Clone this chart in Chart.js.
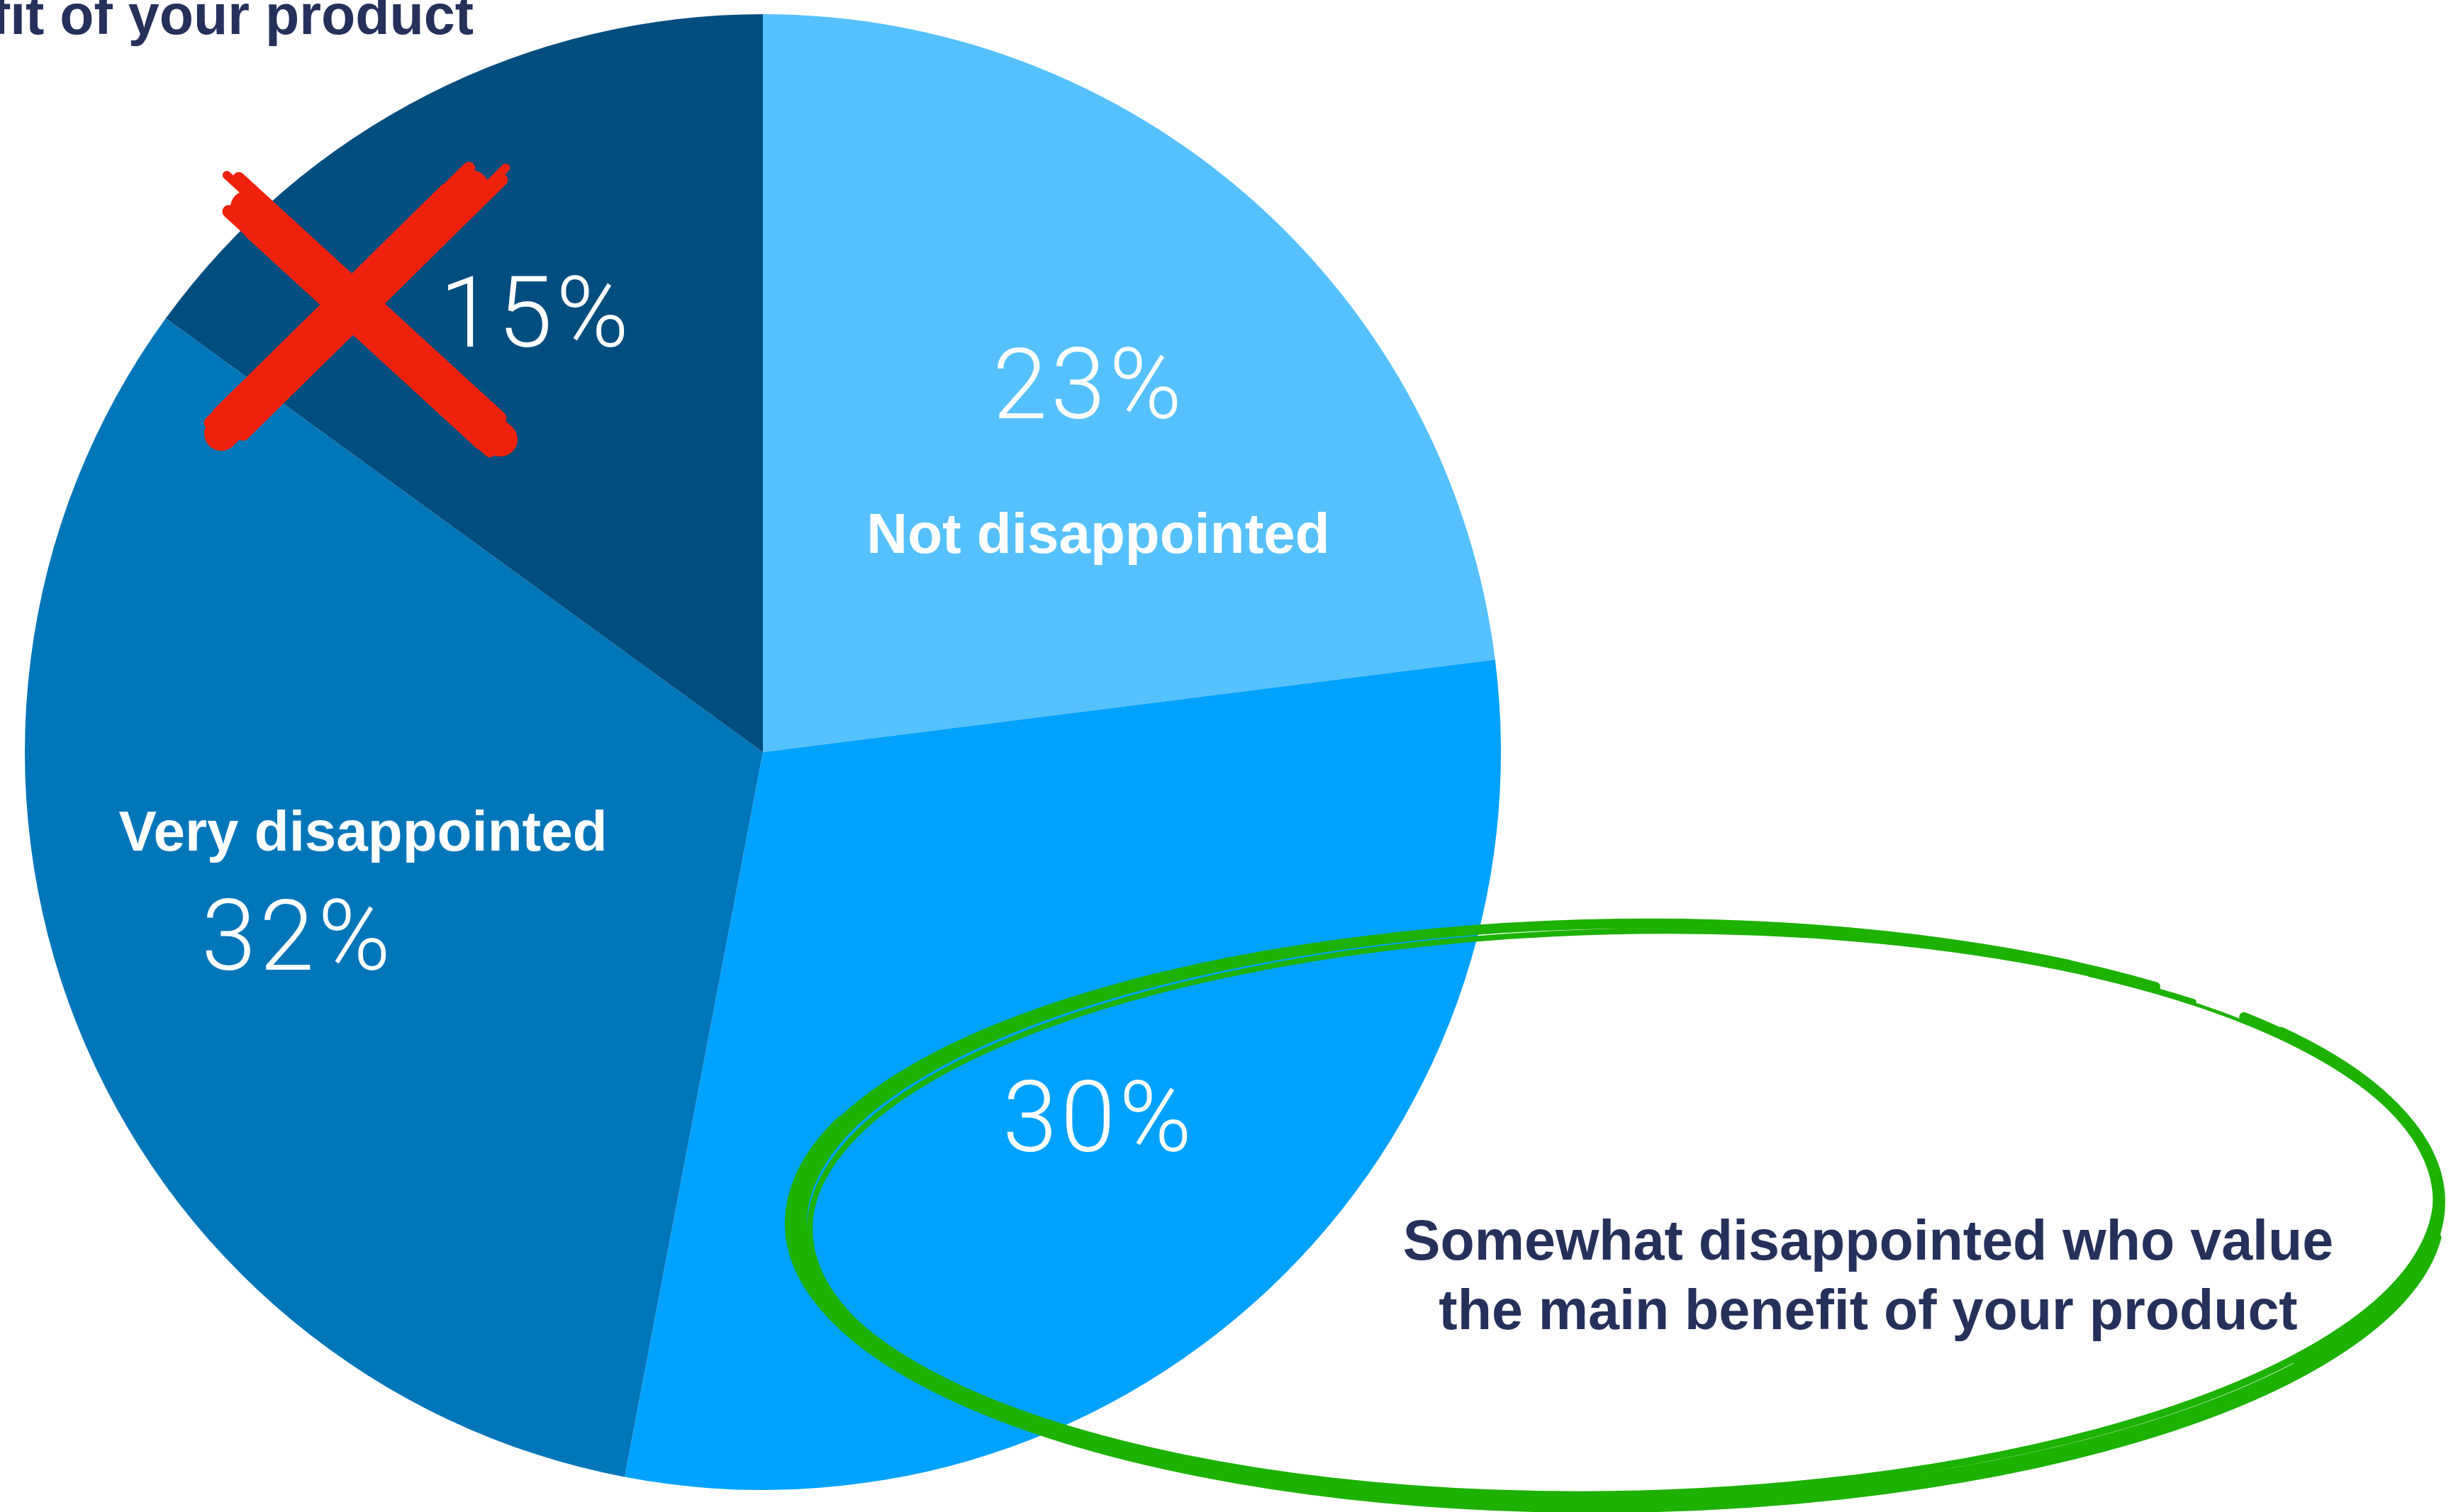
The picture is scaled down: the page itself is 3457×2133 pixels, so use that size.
<!DOCTYPE html>
<html>
<head>
<meta charset="utf-8">
<script src="https://cdn.jsdelivr.net/npm/chart.js@4/dist/chart.umd.min.js"></script>
<style>
  html, body { margin: 0; padding: 0; background: #fff; overflow: hidden; }
  #wrap { width: 3457px; height: 2133px; position: relative; }
</style>
</head>
<body>
<div id="wrap"><canvas id="pie"></canvas></div>
<script>
// slices, clockwise from 12 o'clock
const categories = [
  'Not disappointed',
  'Somewhat disappointed who value the main benefit of your product',
  'Very disappointed',
  "Somewhat disappointed who don't value the main benefit of your product"
];
const shares = [23, 30, 32, 15];
const percentLabels = ['23%', '30%', '32%', '15%'];
const sliceColors = ['#56c1ff', '#00a2ff', '#0076ba', '#004d7f'];

// where each text goes on the page
const pctPlaces = [[1536, 590], [1550, 1624], [420, 1368], [756, 489]];
const namePlaces = [[1549, 780], null, [512, 1200], null];

const navy = '#25305b';

function drawRedX(ctx) {
  ctx.save();
  ctx.strokeStyle = '#ee220c';
  ctx.lineCap = 'round';
  const strokes = [
    [[322, 268], [706, 620]],
    [[692, 238], [312, 612]]
  ];
  strokes.forEach(([a, b]) => {
    const dx = b[0] - a[0], dy = b[1] - a[1];
    const len = Math.hypot(dx, dy);
    const nx = -dy / len, ny = dx / len;
    // a few overlapping passes to look like a marker
    const passes = [
      [0, 48, 0.07, 0.0], [-22, 18, 0.0, 0.04], [22, 18, 0.04, 0.0],
      [-14, 12, -0.03, 0.06], [16, 10, 0.08, -0.02], [-28, 4, 0.02, 0.1], [30, 4, 0.12, 0.03]
    ];
    passes.forEach(([off, w, s, e]) => {
      ctx.lineWidth = w;
      ctx.beginPath();
      ctx.moveTo(a[0] + dx * s + nx * off, a[1] + dy * s + ny * off);
      ctx.lineTo(b[0] - dx * e + nx * off, b[1] - dy * e + ny * off);
      ctx.stroke();
    });
  });
  ctx.restore();
}

function drawGreenLoop(ctx) {
  ctx.save();
  ctx.strokeStyle = '#1db100';
  ctx.lineCap = 'round';
  const loops = [
    // cx, cy, rx, ry, rot, width, start, end
    [2282, 1711, 1160, 408, -0.015, 14, -0.70, 5.43],
    [2285, 1706, 1152, 402, -0.020, 10, -0.62, 5.30],
    [2278, 1716, 1166, 413, -0.010, 10, 0.10, 4.90],
    [2288, 1712, 1146, 398, -0.022, 8, 0.30, 5.50],
    [2280, 1709, 1156, 405, -0.012, 9, 1.20, 3.90],
    [2276, 1714, 1164, 411, -0.008, 8, 1.60, 3.50],
    [2284, 1713, 1150, 400, -0.018, 5, -0.95, 0.60]
  ];
  loops.forEach(([x, y, rx, ry, rot, w, s, e]) => {
    ctx.lineWidth = w;
    ctx.beginPath();
    ctx.ellipse(x, y, rx, ry, rot, s, e);
    ctx.stroke();
  });
  ctx.restore();
}

const annotate = {
  id: 'annotate',
  afterDatasetsDraw(chart) {
    const ctx = chart.ctx;
    ctx.save();
    ctx.fillStyle = '#fff';
    ctx.textAlign = 'center';
    ctx.textBaseline = 'alphabetic';

    // percentages
    ctx.font = '300 139px Roboto, "Liberation Sans", sans-serif';
    ctx.letterSpacing = '5px';
    percentLabels.forEach((t, i) => {
      const p = pctPlaces[i];
      ctx.fillText(t, p[0], p[1]);
    });
    ctx.letterSpacing = '0px';

    // names inside slices
    ctx.font = 'bold 80px "Liberation Sans", Arial, sans-serif';
    categories.forEach((t, i) => {
      const p = namePlaces[i];
      if (p) ctx.fillText(t, p[0], p[1]);
    });

    // outside captions
    ctx.fillStyle = navy;
    ctx.font = 'bold 79px "Liberation Sans", Arial, sans-serif';
    ctx.fillText('Somewhat disappointed who value', 2635, 1777);
    ctx.fillText('the main benefit of your product', 2635, 1875);
    ctx.textAlign = 'right';
    ctx.fillText("Somewhat disappointed who don't value", 668, -50);
    ctx.fillText('the main benefit of your product', 668, 48);
    ctx.restore();

    drawRedX(ctx);
    drawGreenLoop(ctx);
  }
};

new Chart(document.getElementById('pie'), {
  type: 'pie',
  data: {
    labels: categories,
    datasets: [{
      data: shares,
      backgroundColor: sliceColors,
      borderWidth: 0
    }]
  },
  options: {
    responsive: true,
    maintainAspectRatio: false,
    animation: false,
    layout: { padding: { left: 35, top: 19, right: 1340, bottom: 30 } },
    plugins: {
      legend: { display: false },
      tooltip: { enabled: false }
    }
  },
  plugins: [annotate]
});
</script>
</body>
</html>
